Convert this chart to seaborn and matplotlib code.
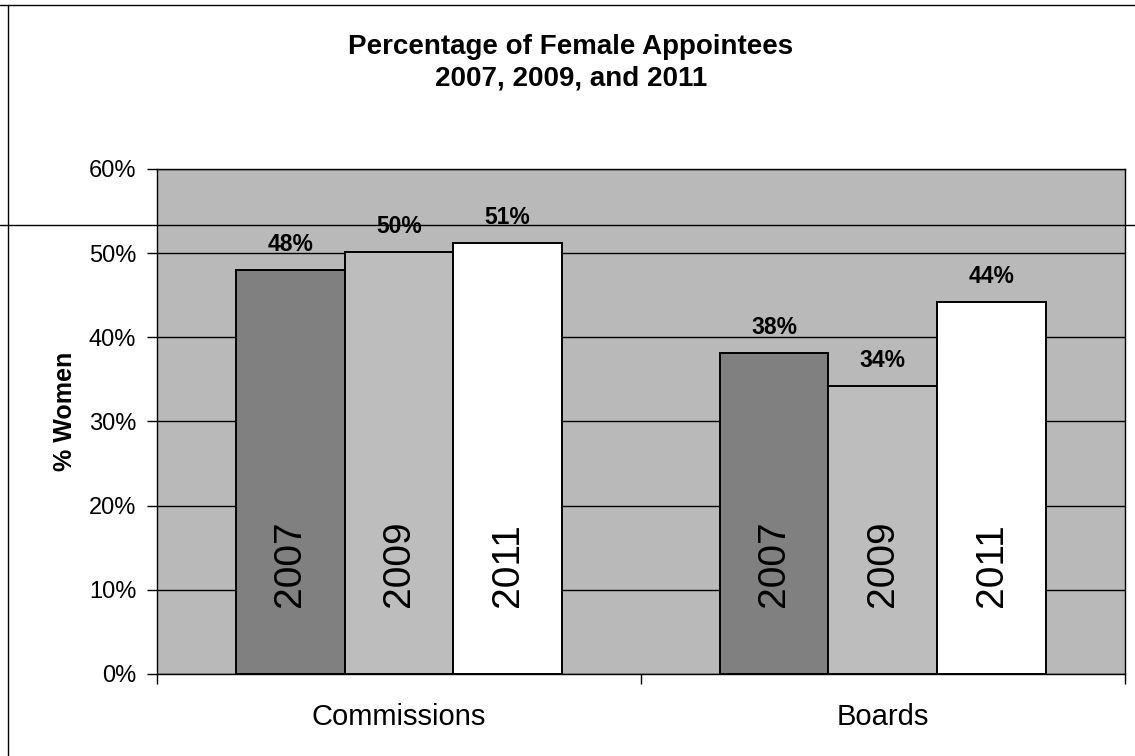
import pandas as pd
import matplotlib
matplotlib.use("Agg")
import matplotlib.pyplot as plt
from matplotlib.lines import Line2D
from matplotlib.ticker import FixedLocator
import seaborn as sns

# Data
groups = ["Commissions", "Boards"]
years = ["2007", "2009", "2011"]
pct_2007 = [48.0, 38.1]
pct_2009 = [50.1, 34.2]
pct_2011 = [51.2, 44.2]

df = pd.DataFrame({
    "group": groups * 3,
    "year": [y for y in years for _ in groups],
    "pct": pct_2007 + pct_2009 + pct_2011,
})

sns.set_style("white")
plt.rcParams["font.family"] = ["Liberation Sans", "DejaVu Sans"]
plt.rcParams["text.color"] = "black"
plt.rcParams["axes.labelcolor"] = "black"
plt.rcParams["xtick.color"] = "black"
plt.rcParams["ytick.color"] = "black"

fig = plt.figure(figsize=(11.35, 7.56), dpi=100)
ax = fig.add_axes([0.1383, 0.1085, 0.8527, 0.668])

palette = {"2007": "#808080", "2009": "#bdbdbd", "2011": "#ffffff"}
sns.barplot(data=df, x="group", y="pct", hue="year", order=groups, hue_order=years,
            palette=palette, width=0.674, gap=0, edgecolor="black", linewidth=1.4,
            saturation=1, legend=False, ax=ax)

ax.set_facecolor("#b9b9b9")
ax.set_ylim(0, 60)
ax.set_xlim(-0.5, 1.5)
ax.set_yticks(range(0, 61, 10))
ax.set_yticklabels([f"{v}%" for v in range(0, 61, 10)])
ax.set_axisbelow(True)
ax.yaxis.grid(True, color="black", linewidth=1.0)
for s in ax.spines.values():
    s.set_color("black")
    s.set_linewidth(1.0)

ax.tick_params(axis="y", direction="out", length=7, width=1, pad=8, labelsize=17, left=True)
ax.tick_params(axis="x", which="major", length=0, pad=21, labelsize=21)
ax.xaxis.set_minor_locator(FixedLocator([-0.5, 0.5, 1.5]))
ax.tick_params(axis="x", which="minor", direction="out", length=7, width=1, bottom=True)

ax.set_xlabel("")
ax.set_ylabel("% Women", fontsize=18, fontweight="bold")
ax.yaxis.set_label_coords(-0.083, 0.52)

# value labels above bars, year labels inside bars
for cont, yr in zip(ax.containers, years):
    for bar in cont:
        h = bar.get_height()
        cx = bar.get_x() + bar.get_width() / 2
        ax.annotate(f"{round(h)}%", (cx, h), xytext=(0, 10), textcoords="offset points",
                    ha="center", va="bottom", fontsize=16.5, fontweight="bold")
        ax.text(cx, 8, yr, rotation=90, ha="center", va="bottom", fontsize=28)

fig.text(0.503, 0.917, "Percentage of Female Appointees\n2007, 2009, and 2011",
         ha="center", va="center", fontsize=20, fontweight="bold", linespacing=1.25)

# page frame lines from the scan
for xs, ys in [([0, 1], [0.9934, 0.9934]), ([0.007, 0.007], [0, 0.9934]),
               ([0, 1], [0.7024, 0.7024])]:
    fig.add_artist(Line2D(xs, ys, transform=fig.transFigure, color="black", linewidth=1.0))

fig.savefig("out.png", dpi=100)
